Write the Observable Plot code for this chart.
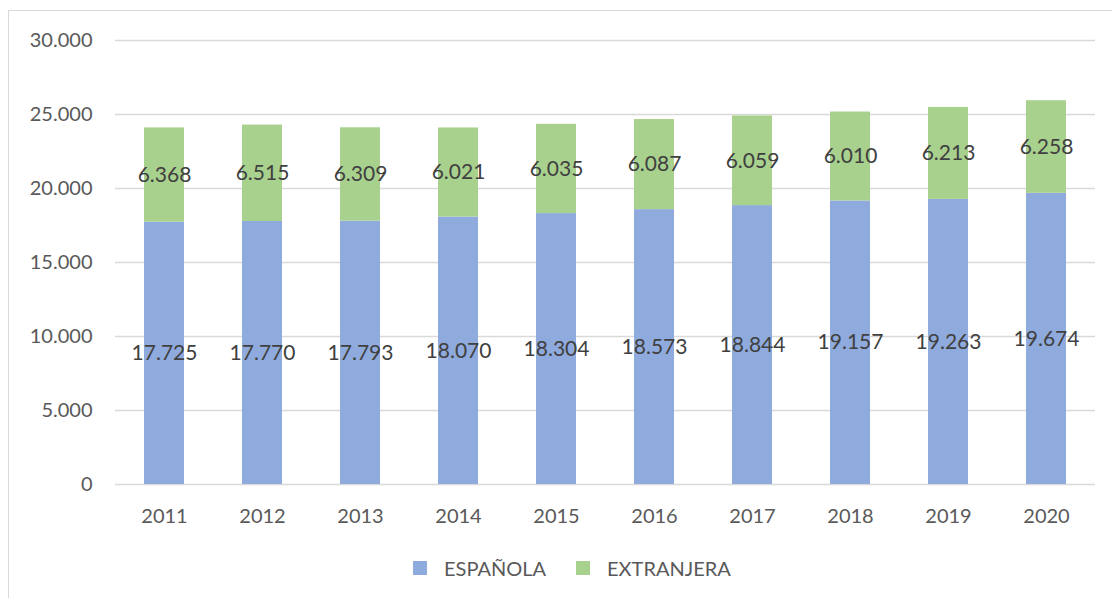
<!DOCTYPE html>
<html>
<head>
<meta charset="utf-8">
<script src="https://cdn.jsdelivr.net/npm/d3@7"></script>
<script src="https://cdn.jsdelivr.net/npm/@observablehq/plot@0.6"></script>
<style>
  html, body { margin: 0; padding: 0; background: #fff; }
  #wrap { position: relative; width: 1112px; height: 598px; overflow: hidden; font-family: Lato, "Open Sans", sans-serif; }
  #frame { position: absolute; left: 8px; top: 10px; width: 1200px; height: 700px; border-left: 1px solid #d9d9d9; border-top: 1px solid #d9d9d9; }
  #chart { position: absolute; left: 0; top: 0; }
  #legend { position: absolute; left: 413px; top: 556px; display: flex; align-items: center; font-size: 20px; color: #595959; height: 24px; }
  .sw { width: 14px; height: 14px; display: inline-block; }
  .lab { margin-left: 17px; margin-right: 30px; }
</style>
</head>
<body>
<div id="wrap">
  <div id="frame"></div>
  <div id="chart"></div>
  <div id="legend"></div>
</div>
<script>
const years = ["2011","2012","2013","2014","2015","2016","2017","2018","2019","2020"];
const series = ["ESPAÑOLA", "EXTRANJERA"];
const espanola = [17725, 17770, 17793, 18070, 18304, 18573, 18844, 19157, 19263, 19674];
const extranjera = [6368, 6515, 6309, 6021, 6035, 6087, 6059, 6010, 6213, 6258];
const colors = ["#8FAADC", "#A9D18E"];
const yTicks = [0, 5000, 10000, 15000, 20000, 25000, 30000];

const loc = d3.formatLocale({decimal: ",", thousands: ".", grouping: [3], currency: ["", "€"]});
const fmt = loc.format(",d");

const data = [];
[espanola, extranjera].forEach((vals, si) => {
  vals.forEach((v, i) => data.push({year: years[i], serie: series[si], value: v}));
});

const plot = Plot.plot({
  width: 1112,
  height: 540,
  marginTop: 40,
  marginBottom: 56,
  marginLeft: 115,
  marginRight: 17,
  style: {fontFamily: "Lato, 'Open Sans', sans-serif", fontSize: "20px", color: "#595959", background: "transparent"},
  x: {domain: years, paddingInner: 0.592, paddingOuter: 0.296, label: null, tickSize: 0, tickPadding: 24},
  y: {domain: [0, 30000], ticks: yTicks, tickFormat: fmt, label: null, tickSize: 0, tickPadding: 23},
  color: {domain: series, range: colors},
  marks: [
    Plot.gridY(yTicks, {stroke: "#d9d9d9", strokeOpacity: 1, strokeWidth: 1.5}),
    Plot.barY(data, {x: "year", y: "value", fill: "serie", order: null}),
    Plot.text(data, Plot.stackY({x: "year", y: "value", z: "serie", order: null, text: d => fmt(d.value), fill: "#404040", fontSize: 21})),
    Plot.axisX({tickSize: 0, tickPadding: 24, fontSize: 20}),
    Plot.axisY({ticks: yTicks, tickFormat: fmt, tickSize: 0, tickPadding: 23, fontSize: 20})
  ]
});
document.getElementById("chart").appendChild(plot);

const legend = document.getElementById("legend");
series.forEach((s, i) => {
  const sw = document.createElement("span");
  sw.className = "sw";
  sw.style.background = colors[i];
  const lb = document.createElement("span");
  lb.className = "lab";
  lb.textContent = s;
  legend.appendChild(sw);
  legend.appendChild(lb);
});
</script>
</body>
</html>
